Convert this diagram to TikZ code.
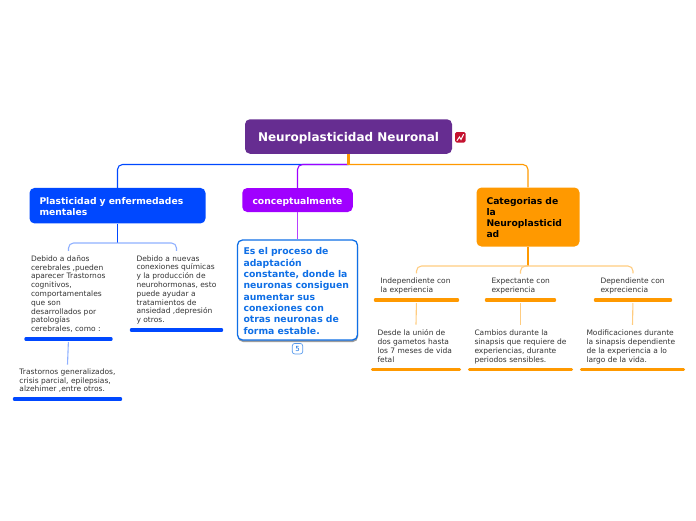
\documentclass[tikz,border=0pt]{standalone}
\usepackage{fontspec}
\setmainfont{DejaVu Sans}
\usetikzlibrary{shadows}
\definecolor{cRoot}{HTML}{662D91}
\definecolor{cBlue}{HTML}{0048FF}
\definecolor{cBlueL}{HTML}{8FB0FF}
\definecolor{cPurple}{HTML}{A000FF}
\definecolor{cOrange}{HTML}{FF9900}
\definecolor{cOrangeL}{HTML}{FFCC80}
\definecolor{cInk}{HTML}{333333}
\definecolor{cNote}{HTML}{0F6FE6}
\definecolor{cRed}{HTML}{C4122F}
\newcommand\fw[2]{\makebox[#1pt][l]{#2}}
\tikzset{
  x=1pt,y=-1pt,
  rootbox/.style={draw=none,fill=cRoot,rounded corners=5pt,text=white,font=\bfseries\fontsize{12}{14}\selectfont,minimum width=207pt,minimum height=34.5pt,inner sep=0pt,text height=9pt,text depth=0pt},
  headbox/.style={draw=none,rounded corners=5pt,inner sep=0pt,font=\bfseries\fontsize{9.2}{11}\selectfont},
  notebox/.style={draw=cNote,line width=1.3pt,fill=white,rounded corners=5pt,text=cNote,font=\bfseries\fontsize{9.3}{11.33}\selectfont,align=left,inner sep=0pt,drop shadow={shadow xshift=0.5pt,shadow yshift=-2pt,opacity=0.55,fill=black!70}},
  leaf/.style={anchor=south,align=left,inner ysep=4.4pt,inner xsep=6.5pt,text=cInk,font=\fontsize{7.5}{8.8}\selectfont,execute at end node=\strut},
  leafo/.style={leaf,font=\fontsize{7.5}{9}\selectfont},
  ublue/.style={draw=cBlue,line width=3.2pt,line cap=round},
  uorange/.style={draw=cOrange,line width=3.2pt,line cap=round},
  lnk/.style={line width=1.1pt,rounded corners=5pt},
  lnkl/.style={line width=1.1pt,rounded corners=5pt},
  badge/.style={draw=cNote!70,line width=0.7pt,fill=white,rounded corners=2.5pt,minimum width=10.5pt,minimum height=10.5pt,inner sep=0pt,text=cNote,font=\fontsize{7}{8}\selectfont},
}
\begin{document}
\begin{tikzpicture}
\useasboundingbox (0,0) rectangle (696,520);
\node[rootbox] (root) at (348.5,136.5) {Neuroplasticidad Neuronal};
\node[headbox,fill=cPurple,text=white,minimum width=110.5pt,minimum height=24pt,text height=8.6pt,text depth=0pt] (conc) at (297.5,200) {conceptualmente};
\node[headbox,fill=cBlue,text=white,minimum width=176pt,minimum height=35.5pt,text width=156pt,inner xsep=10pt,align=left] (plast) at (117.5,205.7) {\rule{0pt}{9pt}Plasticidad y enfermedades\\mentales};
\node[headbox,fill=cOrange,text=black,minimum width=103pt,minimum height=59pt,text width=83pt,inner xsep=10pt,align=left] (cat) at (528,217) {\rule{0pt}{9pt}Categorias de\\la\\Neuroplasticid\\ad};
\node[notebox,minimum width=120pt,minimum height=100pt,text width=108pt] (note) at (297.5,290) {\rule{0pt}{9pt}Es el proceso de\\adaptación\\constante, donde la\\neuronas consiguen\\aumentar sus\\conexiones con\\otras neuronas de\\forma estable.};
\node[badge] (bdg) at (297.5,348.7) {5};

% blue leaves
\node[leaf] (b1) at (68.5,339) {\fw{75}{Debido a daños}\\cerebrales ,pueden\\aparecer Trastornos\\cognitivos,\\comportamentales\\que son\\desarrollados por\\patologías\\cerebrales, como :};
\node[leaf] (b2) at (176.5,330) {\fw{80}{Debido a nuevas}\\conexiones químicas\\y la producción de\\neurohormonas, esto\\puede ayudar a\\tratamientos de\\ansiedad ,depresión\\y otros.};
\node[leaf,font=\fontsize{7.5}{8.5}\selectfont] (b3) at (67.5,399) {\fw{96}{Trastornos generalizados,}\\crisis parcial, epilepsias,\\alzehimer ,entre otros.};
% orange leaves
\node[leafo] (o1) at (416.5,300) {\fw{72}{Independiente con}\\la experiencia};
\node[leafo] (o2) at (520.5,300) {\fw{58}{Expectante con}\\experiencia};
\node[leafo] (o3) at (633,300) {\fw{65}{Dependiente con}\\expreciencia};
\node[leafo] (o4) at (416,369.5) {\fw{77}{Desde la unión de}\\dos gametos hasta\\los 7 meses de vida\\fetal};
\node[leafo] (o5) at (520.5,369.5) {\fw{92}{Cambios durante la}\\sinapsis que requiere de\\experiencias, durante\\periodos sensibles.};
\node[leafo] (o6) at (632.5,369.5) {\fw{92}{Modificaciones durante}\\la sinapsis dependiente\\de la experiencia a lo\\largo de la vida.};

% underlines
\foreach \n in {b1,b2,b3} \draw[ublue] ([xshift=1.6pt]\n.south west) -- ([xshift=-1.6pt]\n.south east);
\foreach \n in {o1,o2,o3,o4,o5,o6} \draw[uorange] ([xshift=1.6pt]\n.south west) -- ([xshift=-1.6pt]\n.south east);

% coordinates for buses
\coordinate (bus) at (348.5,164.5);
\coordinate (busb) at (117.5,243);
\coordinate (buso) at (528,266);

% root connectors
\draw[lnk,draw=cBlue] (bus) -| (plast.north);
\draw[lnk,draw=cOrange] (bus) -| (cat.north);
\draw[lnk,draw=cPurple] (bus) -| (conc.north);
\draw[line width=2.2pt,draw=cOrange] (root.south) -- (bus);
\draw[line width=1pt,draw=cPurple!75] (conc.south) -- (note.north);
% blue
\draw[line width=1.1pt,draw=cBlue] (plast.south) -- (busb);
\draw[lnkl,draw=cBlueL] (busb) -| (b1.north);
\draw[lnkl,draw=cBlueL] (busb) -| (b2.north);
\draw[line width=1.1pt,draw=cBlueL,shorten <=3pt] (b1.south) -- (b3.north);
% orange
\draw[line width=2pt,draw=cOrange] (cat.south) -- (buso);
\draw[lnkl,draw=cOrangeL] (buso) -| (o1.north);
\draw[lnkl,draw=cOrangeL] (buso) -| (o2.north);
\draw[lnkl,draw=cOrangeL] (buso) -| (o3.north);
\draw[line width=1.1pt,draw=cOrangeL,shorten <=3pt] (o1.south) -- (o4.north);
\draw[line width=1.1pt,draw=cOrangeL,shorten <=3pt] (o2.south) -- (o5.north);
\draw[line width=1.1pt,draw=cOrangeL,shorten <=3pt] (o3.south) -- (o6.north);

% icon
\fill[cRed,rounded corners=1.5pt] (455,132) rectangle (465.5,142.5);
\draw[white,line width=1pt,line cap=round] (457,140.5) -- (459.5,137) -- (461,139.5) -- (463.5,134.5);
\end{tikzpicture}
\end{document}
